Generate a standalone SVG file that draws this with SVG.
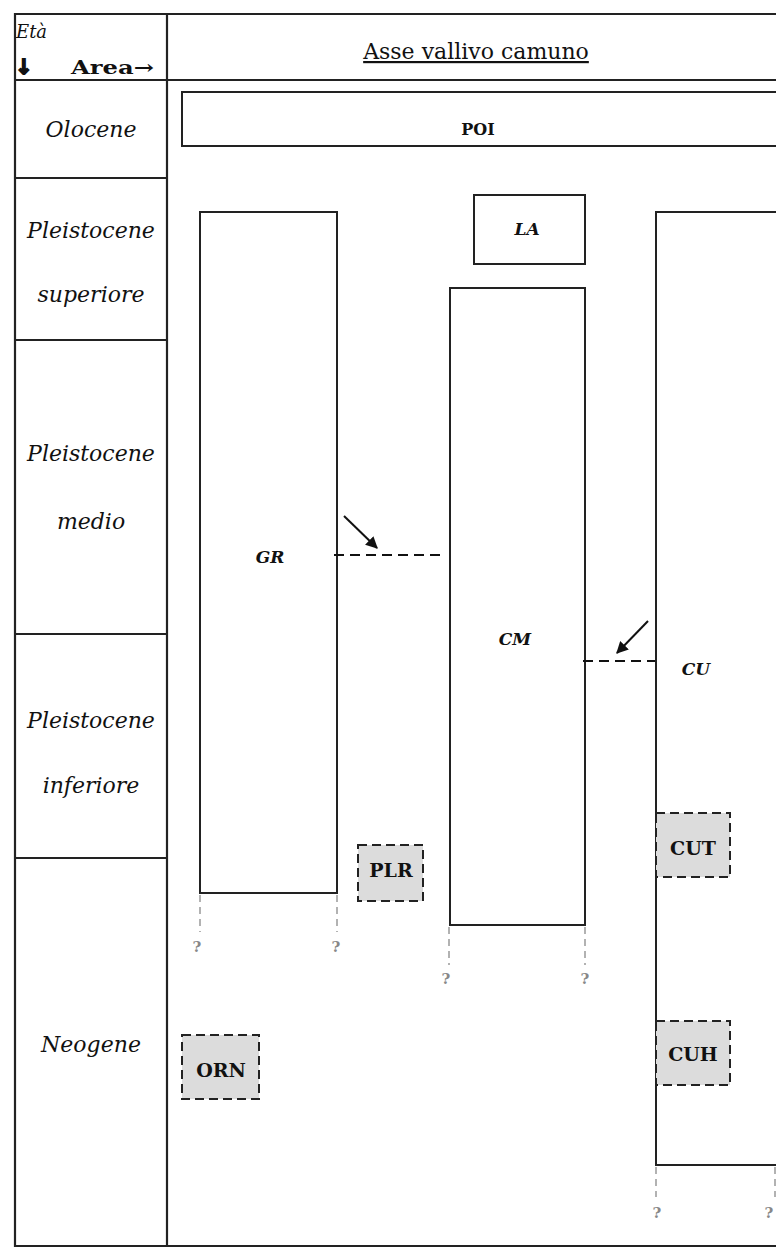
<svg xmlns="http://www.w3.org/2000/svg" width="776" height="1249" viewBox="0 0 776 1249">
<defs>
<marker id="ah" viewBox="0 0 10 10" refX="9" refY="5" markerWidth="6" markerHeight="6" orient="auto" markerUnits="strokeWidth">
<path d="M0,0 L10,5 L0,10 z" fill="#111"/>
</marker>
<style>
.grid{stroke:#222;stroke-width:2.2;fill:none}
.box{stroke:#222;stroke-width:2;fill:#fff}
.dbox{stroke:#222;stroke-width:2;fill:#dcdcdc;stroke-dasharray:9,5}
.conn{stroke:#111;stroke-width:2;stroke-dasharray:10,6;fill:none}
.q{stroke:#999;stroke-width:1.5;stroke-dasharray:7,5;fill:none}
.age{font-family:"DejaVu Serif",serif;font-style:italic;font-size:22px;text-anchor:middle;fill:#111}
.bi{font-family:"DejaVu Serif",serif;font-style:italic;font-weight:bold;font-size:17px;text-anchor:middle;fill:#111}
.b{font-family:"DejaVu Serif",serif;font-weight:bold;font-size:19px;text-anchor:middle;fill:#111}
.qt{font-family:"DejaVu Serif",serif;font-weight:bold;font-size:15px;text-anchor:middle;fill:#888}
</style>
</defs>
<rect width="776" height="1249" fill="#fff"/>
<g id="table">
<path class="grid" d="M780,14 H15 V1246 H780 M167,14 V1246 M15,80 H780 M15,178 H167 M15,340 H167 M15,634 H167 M15,858 H167"/>
<text x="16" y="38" style="font-family:'DejaVu Serif',serif;font-style:italic;font-size:18px" fill="#111">Età</text>
<text x="15" y="74" style="font-family:'DejaVu Sans',sans-serif;font-weight:bold;font-size:21px" fill="#111" stroke="#111" stroke-width="1.6">↓</text>
<text x="71" y="74" textLength="83" lengthAdjust="spacingAndGlyphs" style="font-family:'DejaVu Serif',serif;font-weight:bold;font-size:19px" fill="#111">Area→</text>
<text x="476" y="59" style="font-family:'DejaVu Serif',serif;font-size:22px;text-anchor:middle;text-decoration:underline" fill="#111">Asse vallivo camuno</text>
<text class="age" x="91" y="137">Olocene</text>
<text class="age" x="91" y="238">Pleistocene</text>
<text class="age" x="91" y="302">superiore</text>
<text class="age" x="91" y="461">Pleistocene</text>
<text class="age" x="91" y="529">medio</text>
<text class="age" x="91" y="728">Pleistocene</text>
<text class="age" x="91" y="793">inferiore</text>
<text class="age" x="91" y="1052">Neogene</text>
</g>
<g id="POI"><rect class="box" x="182" y="92" width="600" height="54"/><text class="b" x="478" y="135" style="font-size:16px">POI</text></g>
<g id="GR"><rect class="box" x="200" y="212" width="137" height="681"/><text class="bi" x="270" y="563">GR</text></g>
<g id="LA"><rect class="box" x="474" y="195" width="111" height="69"/><text class="bi" x="527" y="235">LA</text></g>
<g id="CM"><rect class="box" x="450" y="288" width="135" height="637"/><text class="bi" x="515" y="645">CM</text></g>
<g id="CU"><rect class="box" x="656" y="212" width="130" height="953"/><text class="bi" x="696" y="675">CU</text></g>
<g id="PLR"><rect class="dbox" x="358" y="845" width="65" height="56"/><text class="b" x="391" y="877">PLR</text></g>
<g id="CUT"><rect class="dbox" x="656" y="813" width="74" height="64"/><text class="b" x="693" y="855">CUT</text></g>
<g id="CUH"><rect class="dbox" x="656" y="1021" width="74" height="64"/><text class="b" x="693" y="1061">CUH</text></g>
<g id="ORN"><rect class="dbox" x="182" y="1035" width="77" height="64"/><text class="b" x="221" y="1077">ORN</text></g>
<g id="connectors">
<line class="conn" x1="334" y1="555" x2="445" y2="555"/>
<line x1="344" y1="516" x2="377" y2="548" stroke="#111" stroke-width="2" marker-end="url(#ah)"/>
<line class="conn" x1="583" y1="661" x2="655" y2="661"/>
<line x1="648" y1="621" x2="617" y2="653" stroke="#111" stroke-width="2" marker-end="url(#ah)"/>
<line class="q" x1="200" y1="895" x2="200" y2="932"/>
<line class="q" x1="337" y1="895" x2="337" y2="932"/>
<line class="q" x1="449" y1="927" x2="449" y2="965"/>
<line class="q" x1="585" y1="927" x2="585" y2="965"/>
<line class="q" x1="656" y1="1167" x2="656" y2="1197"/>
<line class="q" x1="775" y1="1167" x2="775" y2="1197"/>
<text class="qt" x="197" y="952">?</text>
<text class="qt" x="336" y="952">?</text>
<text class="qt" x="446" y="984">?</text>
<text class="qt" x="585" y="984">?</text>
<text class="qt" x="657" y="1218">?</text>
<text class="qt" x="769" y="1218">?</text>
</g>
</svg>
